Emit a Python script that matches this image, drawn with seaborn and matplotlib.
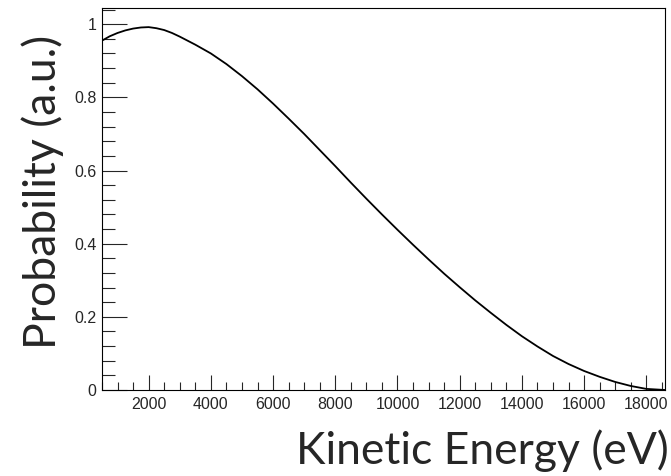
import matplotlib
matplotlib.use("Agg")
import matplotlib.pyplot as plt
import seaborn as sns
from matplotlib.ticker import MultipleLocator

# kinetic energy (eV) and probability
energy = [500, 750, 1000, 1250, 1500, 1750, 2000, 2250, 2500, 2750, 3000, 3500, 4000, 4500, 5000,
          5500, 6000, 6500, 7000, 7500, 8000, 8500, 9000, 9500, 10000,
          10500, 11000, 11500, 12000, 12500, 13000, 13500, 14000, 14500, 15000,
          15500, 16000, 16500, 17000, 17500, 18000, 18600]
prob = [0.955, 0.967, 0.976, 0.983, 0.988, 0.991, 0.992, 0.989, 0.984, 0.976, 0.966, 0.944, 0.920, 0.891, 0.858,
        0.822, 0.783, 0.742, 0.700, 0.656, 0.612, 0.567, 0.523, 0.480, 0.438,
        0.397, 0.357, 0.318, 0.281, 0.245, 0.211, 0.178, 0.147, 0.119, 0.093,
        0.071, 0.052, 0.036, 0.022, 0.011, 0.003, 0.0]

x_ticks = [2000, 4000, 6000, 8000, 10000, 12000, 14000, 16000, 18000]
y_ticks = [0, 0.2, 0.4, 0.6, 0.8, 1]
y_tick_labels = ["0", "0.2", "0.4", "0.6", "0.8", "1"]

sns.set_style("ticks")
plt.rcParams['font.family'] = ['Liberation Sans', 'DejaVu Sans']

fig = plt.figure(figsize=(6.71, 4.76), dpi=100)
ax = fig.add_axes([0.152, 0.1807, 0.839, 0.8023])

sns.lineplot(x=energy, y=prob, ax=ax, color='black', linewidth=1.3)

ax.set_xlim(500, 18600)
ax.set_ylim(0, 1.044)
ax.set_xticks(x_ticks)
ax.set_xticklabels([str(t) for t in x_ticks])
ax.set_yticks(y_ticks)
ax.set_yticklabels(y_tick_labels)
ax.xaxis.set_minor_locator(MultipleLocator(500))
ax.yaxis.set_minor_locator(MultipleLocator(0.04))

ax.tick_params(axis='x', which='major', direction='in', length=11, width=0.8,
               labelsize=11.5, pad=5, top=False)
ax.tick_params(axis='x', which='minor', direction='in', length=6, width=0.8, top=False)
ax.tick_params(axis='y', which='major', direction='in', length=18, width=0.8,
               labelsize=11.5, pad=4, right=False)
ax.tick_params(axis='y', which='minor', direction='in', length=9, width=0.8, right=False)

for s in ax.spines.values():
    s.set_visible(True)
    s.set_linewidth(0.8)
    s.set_color('black')

fig.text(0.996, 0.025, "Kinetic Energy (eV)", ha='right', va='baseline',
         fontsize=32, family=['Lato', 'DejaVu Sans'])
fig.text(0.083, 0.926, "Probability (a.u.)", ha='right', va='baseline', rotation=90,
         rotation_mode='anchor', fontsize=32, family=['Lato', 'DejaVu Sans'])

fig.savefig("out.png", dpi=100)
